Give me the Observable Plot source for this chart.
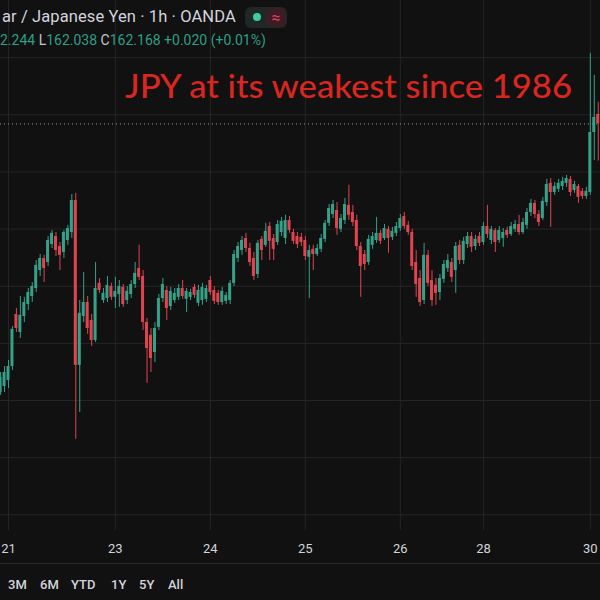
<!DOCTYPE html>
<html>
<head>
<meta charset="utf-8">
<script src="https://cdn.jsdelivr.net/npm/d3@7"></script>
<script src="https://cdn.jsdelivr.net/npm/@observablehq/plot@0.6"></script>
<style>
  html, body { margin: 0; padding: 0; background: #111111; }
  #wrap { position: relative; width: 600px; height: 600px; overflow: hidden; background: #111111; font-family: Roboto, "DejaVu Sans", sans-serif; }
  #chart { position: absolute; left: 0; top: 0; }
  .abs { position: absolute; white-space: nowrap; }
  .g { color: #2f9e86; }
  .l { color: #c3c6ce; }
</style>
</head>
<body>
<div id="wrap">
  <div id="chart"></div>
  <div class="abs" style="left:2px;top:7px;font-size:16.5px;line-height:20px;color:#d1d4dc;letter-spacing:0.1px;">ar / Japanese Yen · 1h · OANDA</div>
  <div class="abs" style="left:245px;top:7px;width:42px;height:21px;border-radius:6px;background:#1f2826;"></div>
  <div class="abs" style="left:253px;top:13px;width:8px;height:8px;border-radius:4px;background:#3fcaa2;"></div>
  <div class="abs" style="left:266px;top:8px;width:20px;height:19px;border-radius:5px;background:#3a1d25;color:#e23d5f;font-size:16px;line-height:19px;text-align:center;">≈</div>
  <div class="abs" style="left:0px;top:31px;font-size:14px;line-height:18px;"><span class="g">2.244</span> <span class="l">L</span><span class="g">162.038</span> <span class="l">C</span><span class="g">162.168</span> <span class="g">+0.020 (+0.01%)</span></div>
  <svg class="abs" style="left:0;top:0;" width="600" height="120">
    <text x="125" y="98" textLength="447" lengthAdjust="spacingAndGlyphs" font-family="Lato, 'Open Sans', sans-serif" font-size="32" font-weight="500" fill="#d9261f">JPY at its weakest since 1986</text>
  </svg>
  <div class="abs" style="left:0;top:563px;width:600px;height:1px;background:#2a2a2a;"></div>
  <div id="ranges"></div>
</div>
<script>
// Day labels on the time axis and the candle index where each day starts
const dayLabels = ["21", "23", "24", "25", "26", "28", "30"];
const dayIndex = [0, 27, 51, 75, 99, 120, 147];
const rangeLabels = ["3M", "6M", "YTD", "1Y", "5Y", "All"];
const priceGrid = [160.8, 161.0, 161.2, 161.4, 161.6, 161.8, 162.0, 162.2, 162.4];
const firstIndex = -2;

// Hourly candles, index firstIndex .. 149
const opens = [161.228,161.249,161.27,161.319,161.501,161.438,161.494,161.536,161.564,161.592,
161.655,161.697,161.683,161.746,161.774,161.739,161.718,161.76,161.788,161.9,
161.323,161.494,161.543,161.48,161.41,161.61,161.55,161.557,161.599,161.561,
161.571,161.596,161.55,161.571,161.606,161.662,161.634,161.473,161.428,161.368,
161.456,161.557,161.585,161.529,161.55,161.561,161.592,161.554,161.561,161.596,
161.54,161.55,161.554,161.62,161.585,161.575,161.543,161.547,161.55,161.61,
161.697,161.725,161.767,161.732,161.697,161.641,161.764,161.743,161.809,161.767,
161.753,161.788,161.767,161.83,161.788,161.774,161.771,161.76,161.701,161.729,
161.711,161.729,161.764,161.82,161.851,161.865,161.799,161.83,161.883,161.858,
161.83,161.739,161.711,161.683,161.743,161.76,161.785,161.767,161.799,161.771,
161.785,161.802,161.844,161.813,161.788,161.683,161.627,161.55,161.708,161.62,
161.603,161.578,161.624,161.662,161.683,161.655,161.743,161.69,161.746,161.774,
161.739,161.774,161.753,161.809,161.76,161.795,161.76,161.767,161.795,161.781,
161.799,161.816,161.788,161.813,161.858,161.89,161.851,161.837,161.893,161.96,
161.928,161.939,161.949,161.96,161.974,161.935,161.949,161.932,161.914,161.928,
162.138,162.201];
const highs = [161.298,161.319,161.34,161.459,161.522,161.564,161.561,161.592,161.613,161.69,
161.711,161.708,161.774,161.795,161.788,161.753,161.795,161.813,161.921,161.925,
161.55,161.648,161.564,161.501,161.683,161.627,161.592,161.634,161.61,161.631,
161.62,161.606,161.599,161.62,161.683,161.743,161.655,161.487,161.452,161.473,
161.571,161.627,161.599,161.596,161.592,161.606,161.62,161.592,161.589,161.606,
161.603,161.61,161.603,161.634,161.599,161.585,161.596,161.578,161.62,161.725,
161.753,161.774,161.785,161.75,161.718,161.76,161.774,161.82,161.823,161.781,
161.83,161.841,161.848,161.844,161.799,161.788,161.785,161.774,161.743,161.743,
161.746,161.781,161.83,161.886,161.9,161.893,161.851,161.907,161.953,161.883,
161.848,161.753,161.725,161.778,161.788,161.841,161.795,161.816,161.809,161.806,
161.823,161.851,161.858,161.827,161.799,161.725,161.655,161.75,161.725,161.655,
161.627,161.641,161.69,161.711,161.697,161.753,161.76,161.771,161.788,161.788,
161.778,161.788,161.823,161.883,161.809,161.802,161.809,161.802,161.806,161.823,
161.83,161.848,161.837,161.872,161.904,161.9,161.865,161.911,161.974,161.977,
161.963,161.974,161.981,161.988,161.984,161.967,161.956,161.942,161.946,162.415,
162.338,162.244];
const lows = [161.218,161.228,161.242,161.305,161.438,161.417,161.473,161.515,161.543,161.578,
161.634,161.613,161.669,161.732,161.704,161.655,161.697,161.743,161.767,161.064,
161.158,161.473,161.431,161.389,161.403,161.575,161.54,161.543,161.55,161.522,
161.526,161.526,161.536,161.557,161.592,161.62,161.445,161.26,161.298,161.333,
161.445,161.543,161.48,161.515,161.54,161.55,161.554,161.508,161.55,161.557,
161.529,161.533,161.543,161.568,161.536,161.533,161.533,161.536,161.536,161.599,
161.683,161.708,161.718,161.669,161.62,161.627,161.69,161.736,161.69,161.69,
161.743,161.774,161.746,161.785,161.746,161.732,161.739,161.69,161.557,161.655,
161.704,161.718,161.753,161.809,161.837,161.778,161.788,161.816,161.83,161.809,
161.725,161.561,161.655,161.673,161.729,161.75,161.746,161.76,161.715,161.76,
161.774,161.792,161.799,161.778,161.655,161.561,161.529,161.536,161.599,161.529,
161.533,161.55,161.61,161.648,161.613,161.575,161.676,161.676,161.732,161.718,
161.725,161.739,161.743,161.767,161.746,161.718,161.75,161.736,161.767,161.774,
161.788,161.778,161.781,161.799,161.844,161.837,161.809,161.83,161.879,161.806,
161.918,161.928,161.935,161.946,161.914,161.925,161.89,161.904,161.904,161.918,
162.04,162.038];
const closes = [161.281,161.298,161.319,161.449,161.452,161.498,161.543,161.578,161.599,161.673,
161.697,161.662,161.76,161.785,161.725,161.708,161.788,161.802,161.9,161.323,
161.505,161.543,161.452,161.41,161.592,161.585,161.575,161.603,161.561,161.582,
161.599,161.536,161.582,161.606,161.645,161.631,161.473,161.382,161.347,161.452,
161.557,161.606,161.522,161.582,161.575,161.592,161.564,161.582,161.578,161.568,
161.585,161.596,161.592,161.578,161.547,161.543,161.582,161.568,161.61,161.711,
161.739,161.76,161.732,161.683,161.634,161.75,161.725,161.792,161.757,161.729,
161.816,161.827,161.83,161.795,161.757,161.746,161.753,161.704,161.725,161.711,
161.732,161.767,161.82,161.872,161.886,161.802,161.837,161.886,161.848,161.823,
161.739,161.669,161.676,161.764,161.774,161.785,161.757,161.802,161.767,161.792,
161.809,161.837,161.809,161.788,161.669,161.606,161.543,161.708,161.61,161.55,
161.575,161.627,161.676,161.69,161.631,161.739,161.69,161.757,161.774,161.736,
161.764,161.75,161.809,161.781,161.799,161.753,161.795,161.788,161.778,161.809,
161.816,161.788,161.823,161.858,161.89,161.851,161.823,161.897,161.956,161.928,
161.949,161.96,161.967,161.977,161.928,161.956,161.911,161.914,161.932,162.138,
162.191,162.168];

const upColor = "#35a189", downColor = "#df4450";
const minBody = 0.003;
const table = closes.map((c, k) => {
  const o = opens[k];
  const lo = Math.min(o, c), hi = Math.max(o, c);
  const mid = (lo + hi) / 2;
  return {
    i: k + firstIndex,
    open: o, close: c,
    high: Math.max(highs[k], hi), low: Math.min(lows[k], lo),
    b1: hi - lo < minBody ? mid - minBody / 2 : lo,
    b2: hi - lo < minBody ? mid + minBody / 2 : hi,
    up: c >= o
  };
});
const ups = table.filter(d => d.up), downs = table.filter(d => !d.up);
const half = 0.38;

const chart = Plot.plot({
  width: 600, height: 563,
  marginTop: 0, marginRight: 0, marginBottom: 33, marginLeft: 0,
  style: { background: "transparent", color: "#d1d4dc", fontFamily: "Roboto, sans-serif", fontSize: "13px", overflow: "visible" },
  x: { type: "linear", domain: [-2.021, 149.57], label: null },
  y: { domain: [160.745, 162.6], axis: null, label: null },
  marks: [
    Plot.gridX(dayIndex, { stroke: "#252525", strokeOpacity: 1 }),
    Plot.gridY(priceGrid, { stroke: "#252525", strokeOpacity: 1 }),
    Plot.axisX(dayIndex, {
      tickSize: 0, tickPadding: 13, fill: "#d1d4dc", fontSize: 13, label: null,
      tickFormat: d => dayLabels[dayIndex.indexOf(d)]
    }),
    Plot.ruleY([closes[closes.length - 1]], { stroke: "#9a9da6", strokeDasharray: "1,3", strokeWidth: 1 }),
    Plot.ruleX(ups, { x: "i", y1: "low", y2: "high", stroke: upColor, strokeWidth: 1 }),
    Plot.ruleX(downs, { x: "i", y1: "low", y2: "high", stroke: downColor, strokeWidth: 1 }),
    Plot.rect(ups, { x1: d => d.i - half, x2: d => d.i + half, y1: "b1", y2: "b2", fill: upColor }),
    Plot.rect(downs, { x1: d => d.i - half, x2: d => d.i + half, y1: "b1", y2: "b2", fill: downColor })
  ]
});
document.getElementById("chart").appendChild(chart);

// range selector row
const rangeX = [8, 40, 71, 111, 139, 168];
const rr = document.getElementById("ranges");
rangeLabels.forEach((t, k) => {
  const s = document.createElement("div");
  s.className = "abs";
  s.style.cssText = `left:${rangeX[k]}px;top:577px;font-size:13px;line-height:16px;color:#d1d4dc;font-weight:500;`;
  s.textContent = t;
  rr.appendChild(s);
});
</script>
</body>
</html>
